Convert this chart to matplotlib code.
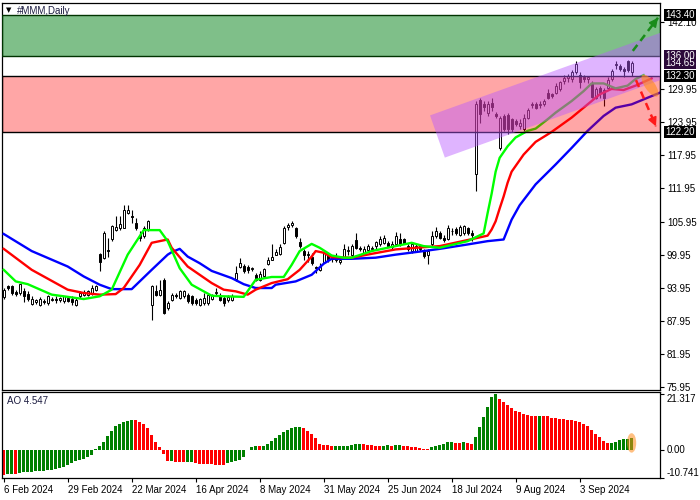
#!/usr/bin/env python3

import matplotlib
matplotlib.use("Agg")
import matplotlib.pyplot as plt
from matplotlib.patches import Ellipse, Polygon
from matplotlib.transforms import IdentityTransform

plt.rcParams["font.family"] = ["Liberation Sans", "DejaVu Sans"]

# daily bars, index 0 = 6 Feb 2024
OPEN = [92.2, 94.3, 94.2, 93.2, 93.0, 93.3, 92.9, 91.0, 91.3, 90.9, 91.6, 91.2, 91.8, 92.0, 91.7, 91.5,
        92.1, 92.0, 90.9, 92.4, 92.7, 92.7, 92.8, 93.6, 100.0, 99.3, 100.8, 102.7, 104.4, 104.8, 104.8,
        107.5, 106.9, 105.7, 103.6, 103.3, 104.5, 90.9, 93.3, 92.7, 95.4, 90.3, 91.8, 92.7, 92.1, 92.4,
        92.7, 92.4, 91.8, 90.9, 91.2, 91.2, 92.0, 93.0, 92.7, 92.1, 91.7, 91.8, 95.5, 97.8, 97.95, 97.7,
        97.3, 96.3, 95.4, 96.0, 98.3, 99.0, 99.95, 100.1, 102.1, 104.95, 105.3, 104.8, 102.2, 100.6,
        99.95, 99.6, 97.7, 97.2, 98.7, 99.95, 99.1, 98.9, 98.7, 99.6, 100.7, 99.95, 102.6, 101.2, 100.3,
        100.75, 101.0, 101.5, 101.8, 102.1, 102.1, 101.3, 101.8, 102.7, 102.7, 101.5, 100.6, 100.7,
        101.5, 100.6, 99.95, 101.8, 103.3, 103.8, 103.0, 102.8, 104.3, 104.6, 103.6, 103.9, 104.8, 103.9,
        114.5, 128.0, 127.2, 125.7, 127.5, 125.5, 119.3, 125.1, 125.3, 124.5, 124.2, 123.3, 122.7, 124.7,
        127.0, 127.3, 127.0, 127.2, 129.3, 129.0, 129.3, 130.0, 131.5, 132.0, 131.8, 133.0, 132.6, 132.2,
        131.8, 131.0, 128.4, 130.25, 129.8, 130.25, 131.8, 134.4, 134.2, 133.6, 135.0, 133.0]
HIGH = [93.9, 94.5, 94.5, 93.5, 94.7, 93.9, 93.3, 92.4, 92.0, 92.2, 92.0, 92.7, 92.2, 92.4, 92.3, 92.5,
        92.4, 92.4, 92.1, 93.4, 93.6, 93.5, 94.5, 94.5, 100.3, 104.2, 103.0, 105.4, 106.9, 106.9, 109.0,
        109.0, 108.1, 106.6, 104.2, 105.1, 106.3, 94.5, 94.5, 95.4, 95.7, 91.5, 93.0, 93.0, 93.6, 93.6,
        93.0, 92.7, 92.1, 92.1, 93.0, 93.0, 92.9, 93.9, 93.0, 92.4, 92.6, 92.9, 97.9, 99.4, 98.3, 98.1,
        97.8, 96.6, 96.9, 97.5, 99.6, 101.8, 100.9, 101.8, 105.1, 105.7, 106.0, 105.0, 103.0, 100.9,
        100.6, 100.3, 97.95, 98.4, 100.6, 100.3, 99.95, 100.3, 99.4, 101.8, 101.5, 101.8, 103.9, 101.5,
        101.5, 101.8, 101.6, 102.4, 103.3, 103.6, 102.4, 102.4, 104.1, 103.9, 103.0, 101.8, 102.1, 101.95,
        101.8, 100.9, 100.9, 104.2, 105.0, 104.3, 103.6, 105.3, 104.8, 105.0, 105.3, 105.3, 105.0, 104.5,
        127.8, 128.3, 127.8, 127.8, 128.4, 125.9, 125.1, 125.4, 125.7, 124.8, 124.5, 124.5, 125.4, 126.6,
        127.6, 127.6, 127.8, 128.1, 129.9, 129.3, 131.0, 131.5, 132.6, 132.7, 133.4, 135.1, 133.0, 132.6,
        132.4, 131.5, 130.3, 130.6, 130.1, 132.1, 133.6, 135.1, 134.5, 133.9, 135.2, 135.0]
LOW = [92.0, 93.6, 92.7, 92.5, 92.7, 91.3, 91.5, 90.9, 91.0, 90.6, 91.0, 90.9, 91.5, 91.2, 91.4, 91.2,
       91.4, 90.9, 90.6, 92.1, 92.4, 92.5, 92.7, 93.3, 96.9, 99.2, 99.6, 102.4, 104.2, 104.5, 104.7,
       107.4, 105.7, 104.5, 102.4, 102.9, 104.3, 88.1, 92.4, 92.5, 89.2, 90.0, 91.5, 92.1, 91.9, 92.1,
       91.2, 90.9, 90.9, 90.6, 90.9, 90.9, 91.7, 92.4, 91.5, 90.6, 91.4, 91.5, 95.1, 97.5, 96.6, 96.7,
       96.9, 95.1, 95.1, 95.7, 98.1, 98.9, 99.8, 99.95, 101.95, 104.5, 105.0, 103.0, 101.2, 99.0,
       98.7, 98.1, 96.7, 96.9, 98.4, 98.7, 98.7, 98.6, 98.3, 99.35, 99.95, 99.6, 100.9, 100.6, 99.95,
       100.4, 100.7, 100.9, 101.5, 101.8, 101.3, 101.0, 101.5, 101.5, 101.8, 100.6, 100.3, 100.4,
       100.6, 99.35, 98.3, 101.5, 103.0, 102.7, 102.3, 102.6, 103.6, 103.6, 103.3, 103.6, 103.6, 102.5,
       111.5, 123.9, 126.0, 125.1, 126.0, 124.8, 119.0, 122.4, 121.8, 122.1, 123.3, 122.7, 122.4, 124.5,
       126.6, 126.3, 126.5, 126.9, 128.1, 128.4, 129.0, 129.6, 130.9, 131.2, 131.2, 132.7, 130.25, 131.2,
       131.0, 128.4, 128.1, 128.4, 126.9, 129.9, 131.5, 133.6, 133.3, 132.1, 133.0, 132.4]
CLOSE = [93.6, 93.9, 93.0, 92.8, 94.6, 92.4, 91.9, 92.0, 91.8, 92.0, 91.4, 92.4, 92.0, 91.7, 92.1, 92.4,
         91.6, 91.4, 91.8, 93.0, 93.2, 93.3, 93.9, 94.2, 98.7, 103.9, 100.6, 105.1, 105.0, 105.5, 108.1,
         108.0, 106.85, 104.8, 103.0, 104.8, 106.1, 94.2, 92.7, 93.6, 89.35, 91.2, 92.7, 92.4, 93.3, 93.3,
         91.5, 91.2, 91.2, 91.9, 92.1, 92.7, 92.5, 93.1, 91.8, 91.2, 92.3, 92.4, 96.6, 98.4, 96.9, 97.1,
         97.5, 95.4, 96.5, 97.4, 99.0, 99.6, 100.5, 101.3, 104.8, 105.3, 105.6, 103.3, 101.5, 99.8,
         100.0, 98.4, 97.5, 97.8, 100.3, 99.0, 99.6, 99.6, 99.0, 100.9, 100.75, 101.5, 101.2, 100.9, 100.9,
         101.5, 101.2, 102.2, 102.7, 103.0, 101.6, 101.9, 103.3, 101.8, 102.1, 100.9, 101.8, 101.6,
         100.9, 99.65, 100.6, 103.3, 104.2, 103.0, 102.6, 104.8, 104.2, 103.9, 104.9, 105.1, 103.9, 103.6,
         127.2, 125.5, 126.7, 127.3, 126.7, 125.1, 124.8, 122.7, 122.7, 122.7, 123.6, 123.9, 124.8, 126.1,
         127.2, 126.6, 127.3, 127.8, 128.4, 128.7, 130.6, 131.2, 131.9, 132.4, 133.0, 134.6, 131.2, 131.8,
         132.1, 128.6, 130.0, 129.2, 128.4, 131.6, 133.3, 134.5, 133.6, 133.3, 133.4, 134.65]

# alligator lines (bar index, price)
JAW_X = [0, 7, 16, 20, 24, 27, 32, 37, 41, 42, 44, 46, 49, 52, 57, 60, 63, 67, 68, 73, 77, 80, 82,
         87, 93, 98, 105, 109, 116, 121, 125, 127, 129, 133, 138, 142, 146, 150, 153, 157, 159, 163, 165]
JAW_Y = [103.7, 100.6, 97.8, 96.0, 94.5, 93.7, 93.7, 97.2, 99.95, 100.4, 101.0, 99.6, 98.4, 97.0, 95.7,
         94.6, 93.9, 93.9, 94.5, 95.1, 96.3, 98.3, 99.2, 99.2, 99.4, 99.95, 100.6, 101.0, 101.8, 102.4,
         102.7, 106.3, 108.9, 112.7, 116.3, 119.3, 122.4, 125.1, 126.6, 127.2, 127.8, 129.0, 129.6]
TEETH_X = [0, 7, 16, 20, 24, 28, 30, 34, 37, 41, 42, 46, 49, 52, 55, 58, 61, 63, 67, 71, 74, 77, 78,
           80, 82, 87, 92, 98, 105, 109, 116, 121, 122, 123, 124, 125, 126, 127, 130, 133, 137, 142,
           146, 149, 152, 155, 158, 162]
TEETH_Y = [101.0, 97.2, 93.6, 93.0, 92.7, 92.8, 93.9, 98.1, 102.1, 102.7, 101.2, 97.8, 96.3, 94.8,
           93.6, 93.3, 92.7, 93.6, 94.8, 95.5, 97.2, 99.6, 100.6, 100.3, 99.5, 99.4, 100.1, 100.9, 101.3,
           101.5, 102.6, 103.4, 104.5, 106.0, 108.3, 110.5, 113.0, 115.0, 118.1, 120.4, 122.2, 124.8,
           127.2, 129.0, 130.0, 129.8, 130.6, 131.9]
LIPS_X = [0, 3, 6, 12, 20, 24, 27, 31, 35, 39, 41, 44, 47, 52, 55, 60, 63, 67, 70, 72, 74, 77, 79, 82,
          85, 87, 92, 98, 102, 105, 109, 116, 120, 121, 122, 123, 124, 126, 128, 131, 133, 136, 138,
          142, 145, 147, 150, 153, 156, 158, 160]
LIPS_Y = [97.2, 95.1, 94.6, 92.7, 91.9, 92.4, 93.6, 99.95, 104.4, 104.4, 102.4, 97.5, 94.5, 92.5, 92.4,
          92.3, 95.4, 95.9, 95.9, 98.1, 100.6, 101.9, 101.2, 99.8, 99.4, 99.4, 100.6, 101.5, 102.1, 101.5,
          101.2, 102.4, 103.8, 107.5, 111.0, 115.0, 117.5, 119.6, 121.2, 122.4, 122.8, 124.5, 125.7,
          127.8, 129.6, 131.0, 131.0, 130.1, 130.6, 131.8, 132.5]

# awesome oscillator, one value per bar
AO = [-9.6, -9.5, -9.4, -9.5, -9.0, -8.75, -8.6, -8.5, -8.35, -8.2, -8.1, -8.0, -7.7, -7.45, -7.1,
      -6.55, -5.8, -5.0, -4.5, -4.0, -3.5, -2.7, -1.9, 0.3,
      1.3, 2.8, 5.1, 7.1, 9.1, 10.0, 10.7, 11.2, 11.6, 11.3, 10.7, 9.9, 8.4, 5.5, 2.8, 0.9,
      -1.7, -4.4, -4.3, -4.6, -4.7, -4.8, -4.7, -4.6, -5.3, -5.4, -5.5, -5.6, -5.7, -5.8, -5.85, -5.9,
      -5.0, -4.8, -4.4, -3.9, -3.0, -0.3, 1.2, 1.5, 1.4, 1.6, 2.2, 3.2, 4.6, 5.5, 6.7, 7.7, 8.4, 8.6,
      8.8, 8.4, 7.3, 6.0, 4.5, 2.2, 1.8, 1.7,
      1.3, 1.33, 1.36, 1.4, 1.45, 1.7, 2.1, 2.15, 2.1, 1.7, 1.65, 1.3, 1.25, 1.6, 1.65, 1.6, 1.65, 1.7,
      1.3, 1.25, 1.2, 0.9, 0.5, 0.45, 0.4, 0.9, 1.3, 1.7, 2.2, 2.8, 2.85, 2.5, 2.45, 2.8, 2.5, 2.1,
      4.75, 8.6, 12.5, 16.3, 20.2, 21.317, 19.4, 18.3, 17.1, 15.9, 14.8, 14.4, 13.6, 13.2, 13.15, 12.9,
      12.95, 12.9, 12.85, 12.1, 12.05, 11.7, 11.65, 11.3, 11.25, 11.2, 10.5, 9.7, 9.0, 7.5, 5.9, 4.8,
      3.2, 2.45, 2.5, 3.1, 3.7, 4.0, 4.3, 4.547]
AO_BEFORE = -9.3

DATE_TICKS = [0, 16, 32, 48, 64, 80, 96, 112, 128, 144]
DATE_LABELS = ["6 Feb 2024", "29 Feb 2024", "22 Mar 2024", "16 Apr 2024", "8 May 2024",
               "31 May 2024", "25 Jun 2024", "18 Jul 2024", "9 Aug 2024", "3 Sep 2024"]
PRICE_TICKS = [142.10, 129.95, 123.95, 117.95, 111.95, 105.95, 99.95, 93.95, 87.95, 81.95, 75.95]
AO_TICKS = [21.317, 0.0, -10.741]
AO_TICK_LABELS = ["21.317", "0.00", "-10.741"]

BUY_ZONE = (136.00, 143.40)
SELL_ZONE = (122.20, 132.30)
CHANNEL_X = [106.6, 166.6, 170.3, 110.3]
CHANNEL_Y = [125.2, 140.8, 133.2, 117.55]
UP_ARROW = [(157.3, 136.9), (163.6, 142.9)]
DOWN_ARROW = [(158.1, 131.6), (163.1, 123.2)]
TAGS = [(143.40, "black"), (136.00, "#2c0a3a"), (134.65, "#2c0a3a"), (132.30, "black"), (122.20, "black")]

W, H = 700, 500


def px_box(left, top, right, bottom):
    return [left / W, 1 - bottom / H, (right - left) / W, (bottom - top) / H]


def draw_arrow(ax, pts, color):
    (x0, y0), (x1, y1) = pts
    ax.plot([x0, x1], [y0, y1], color=color, lw=1.8, ls=(0, (3, 2)), zorder=8, clip_on=False)
    ax.annotate("", xy=(x1, y1), xytext=(x1 - 0.15 * (x1 - x0), y1 - 0.15 * (y1 - y0)),
                arrowprops=dict(arrowstyle="-|>", color=color, lw=1.2, mutation_scale=13,
                                shrinkA=0, shrinkB=0),
                zorder=8, annotation_clip=False)


def main():
    fig = plt.figure(figsize=(7, 5), dpi=100)
    ax = fig.add_axes(px_box(2, 2.5, 660, 390))
    ax2 = fig.add_axes(px_box(2, 392, 660, 478))

    n = len(CLOSE)
    x = list(range(n))
    bottoms = [min(o, c) for o, c in zip(OPEN, CLOSE)]
    heights = [max(abs(c - o), 0.08) for o, c in zip(OPEN, CLOSE)]
    faces = ["white" if c >= o else "black" for o, c in zip(OPEN, CLOSE)]

    ax.vlines(x, LOW, HIGH, color="black", lw=0.8, zorder=2)
    ax.bar(x, heights, bottom=bottoms, width=0.5, color=faces, edgecolor="black",
           linewidth=0.7, zorder=3)

    ax.plot(JAW_X, JAW_Y, color="#0000ff", lw=1.7, zorder=4)
    ax.plot(TEETH_X, TEETH_Y, color="#ff0000", lw=1.7, zorder=4)
    ax.plot(LIPS_X, LIPS_Y, color="#00ff00", lw=1.7, zorder=4)

    ax.axhspan(*BUY_ZONE, facecolor=(0.0, 0.5, 0.08, 0.5), edgecolor="#003300", lw=1, zorder=5)
    ax.axhspan(*SELL_ZONE, facecolor=(1.0, 0.0, 0.0, 0.35), edgecolor="black", lw=1, zorder=5)
    ax.add_patch(Polygon(list(zip(CHANNEL_X, CHANNEL_Y)), closed=True,
                         facecolor=(0.72, 0.35, 1.0, 0.45), edgecolor="none", zorder=6))

    ax.set_xlim(-0.43, 164.1)
    ax.set_ylim(75.41, 145.67)

    draw_arrow(ax, UP_ARROW, "#1a8c1a")
    draw_arrow(ax, DOWN_ARROW, "#ff1a1a")

    cx, cy = ax.transData.transform((161.6, 130.6))
    ax.add_artist(Ellipse((cx, cy), width=26, height=10, angle=-55, transform=IdentityTransform(),
                          facecolor=(1.0, 0.55, 0.1, 0.6), edgecolor="none", zorder=9))

    ax.yaxis.tick_right()
    ax.set_yticks(PRICE_TICKS, [f"{v:.2f}" for v in PRICE_TICKS])
    ax.tick_params(axis="y", direction="out", length=3, width=0.8, pad=2, labelsize=7, colors="black")
    ax.tick_params(axis="x", bottom=False, labelbottom=False)

    for value, color in TAGS:
        ax.text(1.008, value, f"{value:.2f}", transform=ax.get_yaxis_transform(), ha="left", va="center",
                color="white", fontsize=7, zorder=10, clip_on=False,
                bbox=dict(boxstyle="square,pad=0.08", facecolor=color, edgecolor="none"))

    fig.text(6 / W, 1 - 10.5 / H, "\u25bc", fontsize=5, va="center", ha="left", color="black",
             family=["DejaVu Sans"])
    fig.text(17 / W, 1 - 10.5 / H, "#MMM,Daily", fontsize=7, va="center", ha="left", color="#1c1c40")

    prev = [AO_BEFORE] + AO[:-1]
    ao_colors = ["#008000" if v > p else "#ff0000" for v, p in zip(AO, prev)]
    ax2.bar(x, AO, width=0.65, color=ao_colors, linewidth=0, zorder=2)
    ax2.add_patch(Ellipse((157, 2.6), width=2.3, height=7.5, facecolor=(1.0, 0.55, 0.1, 0.55),
                          edgecolor="none", zorder=3))
    ax2.set_xlim(-0.43, 164.1)
    ax2.set_ylim(-10.9, 22.2)
    ax2.yaxis.tick_right()
    ax2.set_yticks(AO_TICKS, AO_TICK_LABELS)
    ax2.tick_params(axis="y", direction="out", length=3, width=0.8, pad=2, labelsize=7)
    for tick, va in zip(ax2.yaxis.get_major_ticks(), ["top", "center", "bottom"]):
        tick.label2.set_va(va)
    ax2.set_xticks(DATE_TICKS, DATE_LABELS)
    ax2.tick_params(axis="x", direction="out", length=3, width=0.8, pad=2, labelsize=7)
    for lbl in ax2.get_xticklabels():
        lbl.set_ha("left")
    ax2.text(0.008, 0.9, f"AO {AO[-1]:.3f}", transform=ax2.transAxes, fontsize=7, va="center",
             ha="left", color="#1c1c40")

    for a in (ax, ax2):
        for spine in a.spines.values():
            spine.set_linewidth(0.9)
            spine.set_color("black")

    fig.savefig("out.png", dpi=100)


if __name__ == "__main__":
    main()
